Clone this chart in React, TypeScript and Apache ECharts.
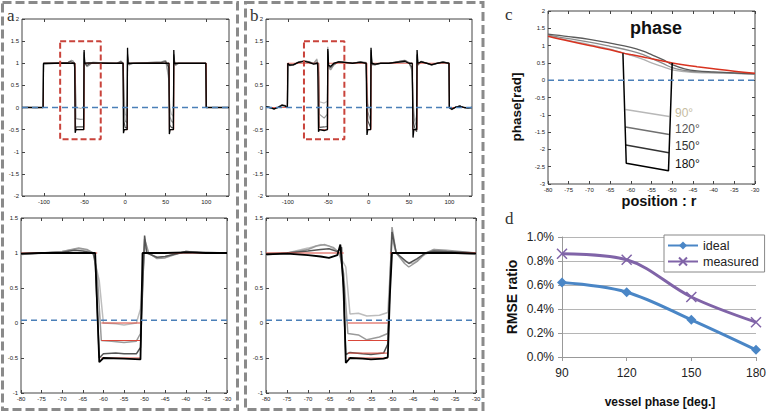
import React, { useEffect, useRef } from 'react';
import * as echarts from 'echarts';

// ---------- Panel a (top: full profile) ----------
const A_TOP_90 = [[-127,0],[-120,0.01],[-110,-0.01],[-101,0],[-100.5,0.98],[-80,1.0],[-70,1.02],[-66,1.06],[-64,1.04],[-62.5,1.0],[-61,0.5],[-60,0],[-55,-0.02],[-51,0],[-50.5,1.1],[-49,1.0],[-47,0.93],[-43,0.98],[-40,1.02],[-10,1.0],[-5,1.05],[-2.5,1.0],[-1,0.3],[0,-0.15],[2.5,-0.2],[3,1.1],[5,0.97],[10,1.0],[45,1.03],[50,1.06],[54,0.6],[55,0.0],[57,-0.15],[59.5,-0.2],[60,1.1],[62,0.96],[66,1.0],[99.5,1],[100,0],[128,0]];
const A_TOP_120 = [[-127,0],[-101,0],[-100.5,0.98],[-70,1.02],[-66,1.07],[-64,1.05],[-62.5,1.0],[-61.5,0.6],[-60.5,-0.25],[-55,-0.27],[-51,-0.26],[-50.5,1.2],[-49,1.0],[-47,0.92],[-43,0.97],[-40,1.02],[-10,1.0],[-5,1.05],[-2.5,1.0],[-1,0.0],[0,-0.3],[2.5,-0.35],[3,1.15],[5,0.96],[10,1.0],[45,1.03],[50,1.06],[54,0.7],[55,-0.2],[57,-0.3],[59.5,-0.35],[60,1.15],[62,0.95],[66,1.0],[99.5,1],[100,0],[128,0]];
const A_TOP_150 = [[-127,0],[-101,0],[-100.5,0.99],[-70,1.02],[-67,1.04],[-63,1.0],[-62,0.9],[-61,-0.5],[-60,-0.44],[-55,-0.44],[-51,-0.44],[-50.5,1.25],[-50,1.0],[-47,0.95],[-43,1.0],[-10,1.0],[-5,1.03],[-2.5,1.0],[-1.5,-0.3],[0,-0.45],[2.5,-0.47],[3,1.2],[4,0.98],[8,1.0],[45,1.02],[50,1.04],[54,0.9],[55,-0.4],[57,-0.45],[59.5,-0.47],[60,1.2],[61,0.97],[65,1.0],[99.5,1],[100,0],[128,0]];
const A_TOP_180 = [[-127,0],[-101,0],[-100.5,1],[-62,1],[-61.5,-0.57],[-60.5,-0.5],[-51,-0.5],[-50.5,1.3],[-50,1],[-45,1.01],[-20,1.0],[-2.5,1],[-2,-0.58],[-1,-0.5],[2.5,-0.5],[3,1.35],[3.5,1],[30,1.0],[54,1],[54.5,-0.6],[55.5,-0.5],[59.5,-0.5],[60,1.3],[60.5,1],[99.5,1],[100,0],[128,0]];

// ---------- Panel b (top: full profile) ----------
const B_TOP_90 = [[-127,0.03],[-122,0.0],[-117,-0.04],[-112,0.0],[-107,0.06],[-103,0.05],[-100.5,0.0],[-100,0.97],[-98,0.94],[-93,0.96],[-87,1.03],[-80,1.06],[-74,1.04],[-68,1.0],[-64,1.1],[-62,0.8],[-61,0.13],[-55,0.1],[-51,0.14],[-50.5,1.2],[-49.5,0.9],[-47,0.86],[-43,0.96],[-37,1.04],[-30,1.03],[-20,1.0],[-10,1.04],[-3,1.02],[-2,0.5],[-1,0.1],[2.5,-0.15],[3,1.2],[4,0.96],[8,0.96],[15,1.0],[25,1.0],[35,1.03],[45,1.07],[50,1.02],[54,0.8],[55,0.1],[57,-0.2],[59.5,-0.35],[60,1.1],[61,0.95],[65,1.05],[72,1.0],[78,0.95],[85,1.0],[92,1.03],[99.5,1.0],[100,0.0],[103,-0.05],[108,0.01],[113,0.04],[118,0.0],[123,-0.02],[128,0.0]];
const B_TOP_120 = [[-127,0.02],[-122,0.0],[-117,-0.03],[-112,0.0],[-107,0.05],[-103,0.04],[-100.5,0.0],[-100,0.97],[-98,0.95],[-93,0.96],[-87,1.02],[-80,1.05],[-74,1.03],[-68,1.0],[-64,1.08],[-62,0.7],[-61,-0.15],[-55,-0.24],[-51,-0.15],[-50.5,1.37],[-49.5,0.9],[-47,0.85],[-43,0.96],[-37,1.04],[-30,1.02],[-20,1.0],[-10,1.03],[-3,1.01],[-2,0.3],[-1,-0.1],[2.5,-0.3],[3,1.25],[4,0.97],[8,0.97],[15,1.0],[25,1.0],[35,1.03],[45,1.06],[50,1.01],[54,0.85],[55,-0.1],[57,-0.3],[59.5,-0.45],[60,1.15],[61,0.96],[65,1.04],[72,1.0],[78,0.96],[85,1.0],[92,1.03],[99.5,1.0],[100,0.0],[103,-0.04],[108,0.01],[113,0.03],[118,0.0],[123,-0.01],[128,0.0]];
const B_TOP_150 = [[-127,0.02],[-122,-0.01],[-117,-0.03],[-112,0.01],[-107,0.06],[-103,0.04],[-100.5,0.0],[-100,0.98],[-98,0.95],[-93,0.96],[-87,1.02],[-80,1.05],[-74,1.03],[-68,0.99],[-63,1.02],[-62,0.8],[-61,-0.45],[-55,-0.44],[-51,-0.43],[-50.5,1.28],[-49.5,0.93],[-47,0.9],[-43,0.98],[-37,1.03],[-30,1.02],[-20,1.0],[-10,1.03],[-3,1.0],[-2,0.2],[-1,-0.3],[2.5,-0.45],[3,1.3],[4,0.98],[8,0.97],[15,1.0],[25,1.0],[35,1.03],[45,1.06],[50,1.0],[54,0.9],[55,-0.3],[57,-0.45],[59.5,-0.55],[60,1.2],[61,0.97],[65,1.04],[72,1.0],[78,0.96],[85,1.0],[92,1.03],[99.5,1.0],[100,0.0],[103,-0.04],[108,0.01],[113,0.03],[118,0.0],[123,-0.01],[128,0.0]];
const B_TOP_180 = [[-127,0.02],[-122,0.0],[-117,-0.03],[-112,0.0],[-107,0.05],[-103,0.03],[-100.5,0.0],[-100,1.0],[-98,0.96],[-93,0.97],[-87,1.02],[-80,1.04],[-74,1.02],[-68,0.98],[-63,1.0],[-62,-0.55],[-61,-0.5],[-55,-0.52],[-51,-0.5],[-50.5,1.32],[-49.5,0.95],[-47,0.93],[-43,1.0],[-37,1.03],[-30,1.02],[-20,1.0],[-10,1.02],[-3,1.0],[-2,-0.62],[-1,-0.5],[2.5,-0.5],[3,1.35],[4,1.0],[8,0.98],[15,1.0],[25,1.0],[35,1.02],[45,1.04],[50,1.0],[54,1.0],[55,-0.68],[56,-0.5],[59.5,-0.5],[60,1.3],[61,1.0],[65,1.03],[72,1.0],[78,0.97],[85,1.0],[92,1.02],[99.5,1.0],[100,0.0],[103,-0.04],[108,0.01],[113,0.03],[118,0.0],[123,-0.01],[128,0.0]];

const IDEAL_TOP = [[-127,0],[-100.5,0],[-100.5,1],[-61.5,1],[-61.5,-0.5],[-50.5,-0.5],[-50.5,1],[-2,1],[-2,-0.5],[3,-0.5],[3,1],[54.5,1],[54.5,-0.5],[60,-0.5],[60,1],[100,1],[100,0],[128,0]];
// red dashed zoom box: x from -80 to -30, y from 1.5 to -0.72
const RED_BOX_X = [-80, -30];
const RED_BOX_Y = [1.5, -0.72];

// ---------- Panel a (bottom: zoom -80..-30) ----------
const A_BOT_90 = [[-80,0.98],[-75,1.0],[-70,1.02],[-66,1.06],[-64,1.04],[-62.5,1.0],[-61,0.6],[-60,0.0],[-57,-0.01],[-55,-0.03],[-52,0.0],[-51,0.2],[-50,1.1],[-49,1.0],[-47,0.93],[-45,0.95],[-43,0.98],[-40,1.02],[-30,1.0]];
const A_BOT_120 = [[-80,0.98],[-75,1.0],[-70,1.02],[-66,1.07],[-64,1.05],[-62.5,1.0],[-61.5,0.7],[-60.5,-0.25],[-58,-0.26],[-55,-0.28],[-52,-0.26],[-51,-0.15],[-50,1.2],[-49,1.0],[-47,0.92],[-45,0.93],[-43,0.97],[-40,1.02],[-37,1.01],[-30,1.0]];
const A_BOT_150 = [[-80,0.99],[-70,1.01],[-67,1.04],[-65,1.03],[-62.5,1.0],[-62,0.9],[-61,-0.5],[-60,-0.44],[-57,-0.43],[-55,-0.44],[-52,-0.44],[-51,-0.35],[-50,1.25],[-49.5,1.0],[-47,0.94],[-45,0.95],[-43,0.98],[-40,1.02],[-35,1.0],[-30,1.0]];
const A_BOT_180 = [[-80,0.99],[-75,1.0],[-70,1.0],[-65,1.0],[-62,1.0],[-61,-0.56],[-60,-0.5],[-55,-0.51],[-51,-0.52],[-50.5,1.0],[-45,1.0],[-40,1.01],[-35,1.0],[-30,1.0]];

// ---------- Panel b (bottom: zoom -80..-30) ----------
const B_BOT_90 = [[-80,0.97],[-75,1.0],[-70,1.07],[-67,1.12],[-65,1.1],[-63,1.02],[-61,0.8],[-60,0.13],[-58,0.14],[-56,0.1],[-53,0.11],[-51,0.15],[-50,1.2],[-49,1.0],[-47,0.88],[-45,0.85],[-43,0.95],[-40,1.05],[-35,1.0],[-30,0.98]];
const B_BOT_120 = [[-80,0.98],[-75,1.0],[-70,1.05],[-68,1.1],[-66,1.12],[-64,1.08],[-62.5,1.0],[-61.5,0.7],[-60.5,-0.15],[-58,-0.17],[-56,-0.24],[-53,-0.2],[-51,-0.15],[-50,1.37],[-49,1.0],[-47,0.85],[-46,0.8],[-44,0.88],[-42,1.0],[-40,1.05],[-37,1.04],[-30,1.0]];
const B_BOT_150 = [[-80,0.99],[-75,1.0],[-70,1.03],[-67,1.05],[-65,1.06],[-63,1.02],[-62,1.08],[-61,-0.45],[-60,-0.42],[-57,-0.44],[-55,-0.45],[-52,-0.43],[-51,-0.3],[-50,1.3],[-49,1.0],[-47,0.9],[-46,0.85],[-44,0.92],[-42,1.0],[-40,1.03],[-37,1.02],[-30,1.0]];
const B_BOT_180 = [[-80,0.98],[-75,0.99],[-70,0.97],[-67,0.95],[-65,0.93],[-63,0.97],[-62.3,1.12],[-61.5,0.5],[-61,-0.57],[-60,-0.5],[-57,-0.51],[-55,-0.52],[-52,-0.51],[-51,-0.49],[-50.5,0.4],[-50,1.0],[-45,1.0],[-40,1.0],[-35,1.0],[-30,0.99]];

const IDEAL_LEFT = [[-80,1],[-61.5,1]];
const IDEAL_RIGHT = [[-50.5,1],[-30,1]];
const IDEAL_LEVELS_A = [0, -0.25, -0.5];
const IDEAL_LEVELS_B = [0, -0.25, -0.43, -0.5];
const IDEAL_SPAN = [-60.5, -51];

// reference (blue dashed) levels
const ZERO_TOP = 0;
const ZERO_BOTTOM = 0.04;
const ZERO_C = 0;

// ---------- Panel c (phase) ----------
const C_DARK = [[-80,1.33],[-75,1.26],[-70,1.18],[-65,1.07],[-60,0.95],[-57,0.84],[-55,0.74],[-52,0.58],[-50,0.45],[-47,0.33],[-44,0.27],[-40,0.24],[-35,0.21],[-30,0.18]];
const C_MID = [[-80,1.3],[-75,1.2],[-70,1.1],[-65,0.98],[-60,0.85],[-57,0.74],[-55,0.63],[-52,0.47],[-50,0.36],[-47,0.28],[-44,0.24],[-40,0.22],[-35,0.2],[-30,0.18]];
const C_LIGHT = [[-80,1.28],[-75,1.15],[-70,1.03],[-65,0.9],[-60,0.72],[-57,0.6],[-55,0.5],[-52,0.38],[-50,0.3],[-47,0.25],[-44,0.22],[-40,0.21],[-35,0.2],[-30,0.18]];
const C_IDEAL = [[-80,1.27],[-75,1.13],[-70,1.0],[-65,0.88],[-62,0.79],[-60,0.74],[-57,0.67],[-55,0.62],[-52,0.55],[-50,0.5],[-47,0.44],[-44,0.39],[-40,0.33],[-35,0.26],[-30,0.2]];
const C_WALL_180 = [[-61.9,0.78],[-61.1,-2.4],[-50.9,-2.62],[-50.0,0.5]];
const C_DIP_90 = [[-61.3,-0.85],[-50.7,-1.05]];
const C_DIP_120 = [[-61.3,-1.35],[-50.7,-1.57]];
const C_DIP_150 = [[-61.2,-1.87],[-50.8,-2.1]];
const C_LABELS = ['90°', '120°', '150°', '180°'];

// ---------- Panel d (RMSE) ----------
const PHASES = [90, 120, 150, 180];
const IDEAL_RMSE = [0.62, 0.54, 0.31, 0.06];
const MEASURED_RMSE = [0.86, 0.81, 0.50, 0.29];

const TOP_MIN = -127, TOP_MAX = 128;
const ZOOM_MIN = -80, ZOOM_MAX = -30;

const FONT = 'Liberation Sans, Arial, sans-serif';
const GRAY90 = '#bdbdbd';
const GRAY120 = '#9a9a9a';
const GRAY150 = '#555555';
const BLACK = '#000000';
const RED = '#d9473a';
const BLUE = '#4a7fb8';

function line(name: string, data: any[], gi: number, color: string, width: number, extra: any = {}) {
  return {
    type: 'line', name, xAxisIndex: gi, yAxisIndex: gi, data,
    symbol: 'none', showSymbol: false, silent: true,
    lineStyle: { color, width }, itemStyle: { color }, ...extra,
  };
}

const zeroSeries = (gi: number, x0: number, x1: number, y: number) =>
  line('zero' + gi, [[x0, y], [x1, y]], gi, BLUE, 1.5, { lineStyle: { color: BLUE, width: 1.5, type: [6, 4] }, z: 6 });

const boxData = [
  [RED_BOX_X[0], RED_BOX_Y[0]], [RED_BOX_X[1], RED_BOX_Y[0]],
  [RED_BOX_X[1], RED_BOX_Y[1]], [RED_BOX_X[0], RED_BOX_Y[1]],
  [RED_BOX_X[0], RED_BOX_Y[0]],
];
const boxSeries = (gi: number) => line('box' + gi, boxData, gi, '#c9433b', 2, { lineStyle: { color: '#c9433b', width: 2, type: [6, 3] }, z: 5 });

function matX(gi: number, min: number, max: number, interval?: number, custom?: number[], pos = 'bottom') {
  const ax: any = {
    type: 'value', gridIndex: gi, min, max, position: pos,
    axisLine: { show: false, onZero: false },
    axisTick: { inside: true, length: 3, lineStyle: { color: '#444' } },
    axisLabel: { show: pos === 'bottom', fontSize: 6, color: '#222', margin: 3 },
    splitLine: { show: false },
  };
  if (interval) ax.interval = interval;
  if (custom) { ax.axisLabel.customValues = custom; ax.axisTick.customValues = custom; }
  return ax;
}
function matY(gi: number, min: number, max: number, interval: number, pos = 'left') {
  return {
    type: 'value', gridIndex: gi, min, max, interval, position: pos,
    axisLine: { show: false, onZero: false },
    axisTick: { inside: true, length: 3, lineStyle: { color: '#444' } },
    axisLabel: { show: pos === 'left', fontSize: 6, color: '#222', margin: 3 },
    splitLine: { show: false },
  };
}

const TOP_TICKS = [-100, -50, 0, 50, 100];

function dipSeries(levels: number[], gi: number) {
  return levels.map((lv, i) => line('ideal-dip-' + gi + '-' + i, [[IDEAL_SPAN[0], lv], [IDEAL_SPAN[1], lv]], gi, RED, 1));
}

const option: any = {
  animation: false,
  backgroundColor: '#fff',
  textStyle: { fontFamily: FONT },
  grid: [
    { left: 22, top: 19, width: 207, height: 177, show: true, borderColor: '#444', borderWidth: 1 },
    { left: 21, top: 218, width: 206, height: 175, show: true, borderColor: '#444', borderWidth: 1 },
    { left: 266, top: 19, width: 206, height: 177, show: true, borderColor: '#444', borderWidth: 1 },
    { left: 266, top: 218, width: 210, height: 175, show: true, borderColor: '#444', borderWidth: 1 },
    { left: 548, top: 11, width: 207, height: 173, show: true, borderColor: '#444', borderWidth: 1 },
    { left: 562, top: 237, width: 197, height: 120 },
  ],
  xAxis: [
    matX(0, TOP_MIN, TOP_MAX, undefined, TOP_TICKS),
    matX(1, ZOOM_MIN, ZOOM_MAX, 5),
    matX(2, TOP_MIN, TOP_MAX, undefined, TOP_TICKS),
    matX(3, ZOOM_MIN, ZOOM_MAX, 5),
    matX(4, ZOOM_MIN, ZOOM_MAX, 5),
    {
      type: 'value', gridIndex: 5, min: 90, max: 180, interval: 30,
      axisLine: { show: true, onZero: false, lineStyle: { color: '#999' } },
      axisTick: { show: true, length: 4, lineStyle: { color: '#999' } },
      axisLabel: { fontSize: 12, color: '#222', margin: 10 },
      splitLine: { show: false },
    },
    matX(0, TOP_MIN, TOP_MAX, undefined, TOP_TICKS, 'top'),
    matX(1, ZOOM_MIN, ZOOM_MAX, 5, undefined, 'top'),
    matX(2, TOP_MIN, TOP_MAX, undefined, TOP_TICKS, 'top'),
    matX(3, ZOOM_MIN, ZOOM_MAX, 5, undefined, 'top'),
    matX(4, ZOOM_MIN, ZOOM_MAX, 5, undefined, 'top'),
  ],
  yAxis: [
    matY(0, -2, 2, 0.5),
    matY(1, -1, 1.5, 0.5),
    matY(2, -2, 2, 0.5),
    matY(3, -1, 1.5, 0.5),
    matY(4, -3, 2, 0.5),
    {
      type: 'value', gridIndex: 5, min: 0, max: 1, interval: 0.2,
      axisLine: { show: true, onZero: false, lineStyle: { color: '#999' } },
      axisTick: { show: true, length: 4, lineStyle: { color: '#999' } },
      axisLabel: { fontSize: 12, color: '#222', margin: 8, formatter: (v: number) => v.toFixed(1) + '%' },
      splitLine: { show: true, lineStyle: { color: '#b5b5b5' } },
    },
    matY(0, -2, 2, 0.5, 'right'),
    matY(1, -1, 1.5, 0.5, 'right'),
    matY(2, -2, 2, 0.5, 'right'),
    matY(3, -1, 1.5, 0.5, 'right'),
    matY(4, -3, 2, 0.5, 'right'),
  ],
  legend: {
    data: ['ideal', 'measured'], orient: 'vertical', left: 664, top: 235,
    backgroundColor: '#fff', borderColor: '#888', borderWidth: 1,
    padding: [4, 6, 4, 3], itemGap: 3, itemWidth: 30, itemHeight: 10,
    textStyle: { fontSize: 12.5, color: '#222', fontFamily: FONT },
  },
  series: [
    // a top
    line('a90', A_TOP_90, 0, GRAY90, 1.2),
    line('a120', A_TOP_120, 0, GRAY120, 1.2),
    line('a150', A_TOP_150, 0, GRAY150, 1.2),
    line('aIdeal', IDEAL_TOP, 0, RED, 0.8),
    line('a180', A_TOP_180, 0, BLACK, 1.3),
    zeroSeries(0, TOP_MIN, TOP_MAX, ZERO_TOP),
    boxSeries(0),
    // a bottom
    line('a90b', A_BOT_90, 1, GRAY90, 1.5),
    line('a120b', A_BOT_120, 1, GRAY120, 1.5),
    line('a150b', A_BOT_150, 1, GRAY150, 1.5),
    line('aIdealL', IDEAL_LEFT, 1, RED, 1),
    line('aIdealR', IDEAL_RIGHT, 1, RED, 1),
    ...dipSeries(IDEAL_LEVELS_A, 1),
    line('a180b', A_BOT_180, 1, BLACK, 1.8),
    zeroSeries(1, ZOOM_MIN, ZOOM_MAX, ZERO_BOTTOM),
    // b top
    line('b90', B_TOP_90, 2, GRAY90, 1.2),
    line('b120', B_TOP_120, 2, GRAY120, 1.2),
    line('b150', B_TOP_150, 2, GRAY150, 1.2),
    line('bIdeal', IDEAL_TOP, 2, RED, 0.8),
    line('b180', B_TOP_180, 2, BLACK, 1.3),
    zeroSeries(2, TOP_MIN, TOP_MAX, ZERO_TOP),
    boxSeries(2),
    // b bottom
    line('b90b', B_BOT_90, 3, GRAY90, 1.5),
    line('b120b', B_BOT_120, 3, GRAY120, 1.5),
    line('b150b', B_BOT_150, 3, GRAY150, 1.5),
    line('bIdealL', IDEAL_LEFT, 3, RED, 1),
    line('bIdealR', IDEAL_RIGHT, 3, RED, 1),
    ...dipSeries(IDEAL_LEVELS_B, 3),
    line('b180b', B_BOT_180, 3, BLACK, 1.8),
    zeroSeries(3, ZOOM_MIN, ZOOM_MAX, ZERO_BOTTOM),
    // c
    line('cLight', C_LIGHT, 4, '#b0b0b0', 1.3, { smooth: 0.4 }),
    line('cMid', C_MID, 4, '#8a8a8a', 1.3, { smooth: 0.4 }),
    line('cDark', C_DARK, 4, '#5a5a5a', 1.3, { smooth: 0.4 }),
    line('cIdeal', C_IDEAL, 4, '#d8321f', 1.5, { smooth: 0.4 }),
    line('c90', C_DIP_90, 4, '#b8b8b8', 1.5),
    line('c120', C_DIP_120, 4, '#707070', 1.5),
    line('c150', C_DIP_150, 4, '#333', 1.5),
    line('c180', C_WALL_180, 4, BLACK, 1.5),
    zeroSeries(4, ZOOM_MIN, ZOOM_MAX, ZERO_C),
    // d
    {
      type: 'line', name: 'ideal', xAxisIndex: 5, yAxisIndex: 5,
      data: PHASES.map((p, i) => [p, IDEAL_RMSE[i]]),
      smooth: 0.35, symbol: 'diamond', symbolSize: 10,
      lineStyle: { color: '#4a86c6', width: 3 }, itemStyle: { color: '#4a86c6' },
    },
    {
      type: 'line', name: 'measured', xAxisIndex: 5, yAxisIndex: 5,
      data: PHASES.map((p, i) => [p, MEASURED_RMSE[i]]),
      smooth: 0.35, symbol: 'path://M0,0L10,10M10,0L0,10', symbolSize: 10,
      lineStyle: { color: '#8064a8', width: 3 },
      itemStyle: { color: '#8064a8', borderColor: '#8064a8', borderWidth: 1.5 },
    },
  ],
  graphic: [
    { type: 'rect', shape: { x: 2.5, y: 2.5, width: 235, height: 407 }, style: { fill: 'none', stroke: '#8a8a8a', lineWidth: 3, lineDash: [9, 4] } },
    { type: 'rect', shape: { x: 245.5, y: 2.5, width: 237.5, height: 407 }, style: { fill: 'none', stroke: '#8a8a8a', lineWidth: 3, lineDash: [9, 4] } },
    { type: 'text', x: 7, y: 15, style: { text: 'a', font: '17px Liberation Serif, serif', fill: '#333', verticalAlign: 'middle' } },
    { type: 'text', x: 250, y: 15, style: { text: 'b', font: '17px Liberation Serif, serif', fill: '#333', verticalAlign: 'middle' } },
    { type: 'text', x: 505, y: 14, style: { text: 'c', font: '17px Liberation Serif, serif', fill: '#333', verticalAlign: 'middle' } },
    { type: 'text', x: 505, y: 218, style: { text: 'd', font: '17px Liberation Serif, serif', fill: '#333', verticalAlign: 'middle' } },
    { type: 'text', x: 656, y: 28, style: { text: 'phase', font: 'bold 18px Liberation Sans, Arial, sans-serif', fill: '#111', align: 'center', verticalAlign: 'middle' } },
    { type: 'text', x: 516, y: 107, rotation: Math.PI / 2, style: { text: 'phase[rad]', font: 'bold 13.5px Liberation Sans, Arial, sans-serif', fill: '#111', align: 'center', verticalAlign: 'middle' } },
    { type: 'text', x: 659, y: 201, style: { text: 'position : r', font: 'bold 14.5px Liberation Sans, Arial, sans-serif', fill: '#111', align: 'center', verticalAlign: 'middle' } },
    { type: 'text', x: 675, y: 113, style: { text: C_LABELS[0], font: '12px Liberation Sans, Arial, sans-serif', fill: '#c6bc9f', verticalAlign: 'middle' } },
    { type: 'text', x: 675, y: 129, style: { text: C_LABELS[1], font: '12px Liberation Sans, Arial, sans-serif', fill: '#555', verticalAlign: 'middle' } },
    { type: 'text', x: 675, y: 146, style: { text: C_LABELS[2], font: '12px Liberation Sans, Arial, sans-serif', fill: '#333', verticalAlign: 'middle' } },
    { type: 'text', x: 675, y: 164, style: { text: C_LABELS[3], font: '12px Liberation Sans, Arial, sans-serif', fill: '#111', verticalAlign: 'middle' } },
    { type: 'text', x: 512, y: 297, rotation: Math.PI / 2, style: { text: 'RMSE ratio', font: 'bold 14px Liberation Sans, Arial, sans-serif', fill: '#111', align: 'center', verticalAlign: 'middle' } },
    { type: 'text', x: 660, y: 402, style: { text: 'vessel phase [deg.]', font: 'bold 12px Liberation Sans, Arial, sans-serif', fill: '#111', align: 'center', verticalAlign: 'middle' } },
  ],
};

export default function App() {
  const ref = useRef<HTMLDivElement>(null);
  useEffect(() => {
    const chart = echarts.init(ref.current!, null, { renderer: 'svg', width: 769, height: 413 });
    chart.setOption(option);
    return () => chart.dispose();
  }, []);
  return <div ref={ref} style={{ position: 'fixed', left: 0, top: 0, width: 769, height: 413, background: '#fff' }} />;
}
